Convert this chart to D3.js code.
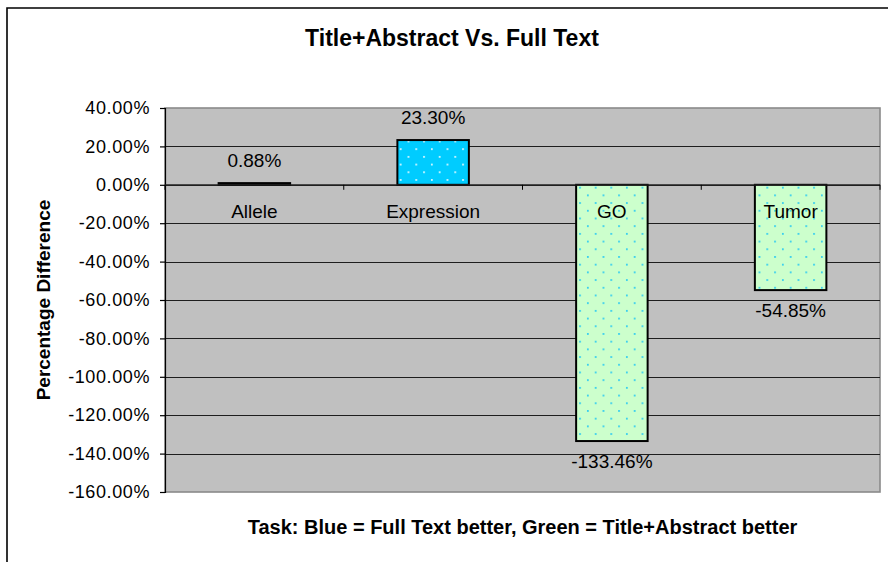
<!DOCTYPE html>
<html>
<head>
<meta charset="utf-8">
<script src="https://cdn.jsdelivr.net/npm/d3@7"></script>
<style>
  html, body { margin: 0; padding: 0; background: #fff; }
  svg { display: block; }
  text { font-family: "Liberation Sans", Arial, sans-serif; fill: #000; }
</style>
</head>
<body>
<svg id="chart" width="888" height="562"></svg>
<script>
// Percentage difference per task, Title+Abstract vs. Full Text
const categories = ["Allele", "Expression", "GO", "Tumor"];
const values = [0.88, 23.30, -133.46, -54.85];
const yTicks = [40, 20, 0, -20, -40, -60, -80, -100, -120, -140, -160];
const titleText = "Title+Abstract Vs. Full Text";
const yTitle = "Percentage Difference";
const xTitle = "Task: Blue = Full Text better, Green = Title+Abstract better";

const svg = d3.select("#chart");
const plot = { left: 165, right: 880, top: 108, bottom: 492 };

const x = d3.scaleBand()
  .domain(categories)
  .range([plot.left, plot.right])
  .paddingInner(0.6)
  .paddingOuter(0.3);

const xCat = d3.scaleBand()
  .domain(categories)
  .range([plot.left, plot.right]);

const y = d3.scaleLinear()
  .domain([-160, 40])
  .range([plot.bottom, plot.top]);

// plain hyphen for negatives, two decimals, percent sign
const fmt = v => d3.format(".2f")(v).replace("\u2212", "-") + "%";

// dotted fills for the bars
const defs = svg.append("defs");
function dotPattern(id, bg, dot) {
  const p = defs.append("pattern")
    .attr("id", id)
    .attr("patternUnits", "userSpaceOnUse")
    .attr("width", 15.6)
    .attr("height", 15.4);
  p.append("rect").attr("width", 15.6).attr("height", 15.4).attr("fill", bg);
  p.append("rect").attr("x", 2).attr("y", 2).attr("width", 1.7).attr("height", 1.7).attr("fill", dot);
  p.append("rect").attr("x", 9.8).attr("y", 9.7).attr("width", 1.7).attr("height", 1.7).attr("fill", dot);
}
dotPattern("dotsBlue", "#00ccff", "#f0fcff");
dotPattern("dotsGreen", "#ccffcc", "#22c8f4");

// outer chart frame
svg.append("path")
  .attr("d", "M7,570 V8 H900")
  .attr("fill", "none")
  .attr("stroke", "#000")
  .attr("stroke-width", 1.6);

// plot area
svg.append("rect")
  .attr("x", plot.left).attr("y", plot.top)
  .attr("width", plot.right - plot.left)
  .attr("height", plot.bottom - plot.top)
  .attr("fill", "#c0c0c0")
  .attr("stroke", "#8a8a8a")
  .attr("stroke-width", 1.6);

// horizontal gridlines
svg.append("g")
  .selectAll("line")
  .data(yTicks.filter(t => t < 40 && t > -160))
  .join("line")
  .attr("x1", plot.left).attr("x2", plot.right)
  .attr("y1", d => Math.round(y(d)) + 0.5)
  .attr("y2", d => Math.round(y(d)) + 0.5)
  .attr("stroke", "#1e1e1e")
  .attr("stroke-width", 1.2);

// y axis
const yAxis = svg.append("g")
  .attr("transform", `translate(${plot.left},0)`)
  .call(d3.axisLeft(y).tickValues(yTicks).tickFormat(fmt).tickSize(5).tickPadding(10));
yAxis.select(".domain").attr("stroke", "#000").attr("stroke-width", 1.2);
yAxis.selectAll(".tick line").attr("stroke", "#000").attr("stroke-width", 1.2);
yAxis.selectAll(".tick text")
  .style("font-family", "'Liberation Sans', Arial, sans-serif")
  .style("font-size", "18px")
  .style("letter-spacing", "0.6px")
  .attr("fill", "#000");

// bars
svg.append("g")
  .selectAll("rect")
  .data(categories.map((c, i) => ({ c, v: values[i] })))
  .join("rect")
  .attr("x", d => x(d.c))
  .attr("width", x.bandwidth())
  .attr("y", d => y(Math.max(0, d.v)))
  .attr("height", d => Math.abs(y(d.v) - y(0)))
  .attr("fill", d => d.v >= 0 ? "url(#dotsBlue)" : "url(#dotsGreen)")
  .attr("stroke", "#000")
  .attr("stroke-width", 2);

// category axis on the zero line
const xAxis = svg.append("g")
  .attr("transform", `translate(0,${y(0)})`);
xAxis.append("line")
  .attr("x1", plot.left).attr("x2", plot.right)
  .attr("stroke", "#222").attr("stroke-width", 1.2);
xAxis.selectAll("line.tick")
  .data(categories.map(c => xCat(c)).concat([plot.right]))
  .join("line")
  .attr("class", "tick")
  .attr("x1", d => d).attr("x2", d => d)
  .attr("y1", 0).attr("y2", 5)
  .attr("stroke", "#000").attr("stroke-width", 1);
xAxis.selectAll("text")
  .data(categories)
  .join("text")
  .attr("x", d => xCat(d) + xCat.bandwidth() / 2)
  .attr("y", 33)
  .attr("text-anchor", "middle")
  .style("font-size", "19px")
  .text(d => d);

// value labels
svg.append("g")
  .selectAll("text")
  .data(categories.map((c, i) => ({ c, v: values[i] })))
  .join("text")
  .attr("x", d => x(d.c) + x.bandwidth() / 2)
  .attr("y", d => d.v >= 0 ? y(d.v) - 16 : y(d.v) + 27)
  .attr("text-anchor", "middle")
  .style("font-size", "19px")
  .text(d => fmt(d.v));

// titles
svg.append("text")
  .attr("x", 452).attr("y", 46)
  .attr("text-anchor", "middle")
  .style("font-size", "23px").style("font-weight", "bold")
  .text(titleText);

svg.append("text")
  .attr("transform", `translate(50,${(plot.top + plot.bottom) / 2}) rotate(-90)`)
  .attr("text-anchor", "middle")
  .style("font-size", "19px").style("font-weight", "bold")
  .text(yTitle);

svg.append("text")
  .attr("x", (plot.left + plot.right) / 2).attr("y", 534)
  .attr("text-anchor", "middle")
  .style("font-size", "20px").style("font-weight", "bold")
  .text(xTitle);
</script>
</body>
</html>
